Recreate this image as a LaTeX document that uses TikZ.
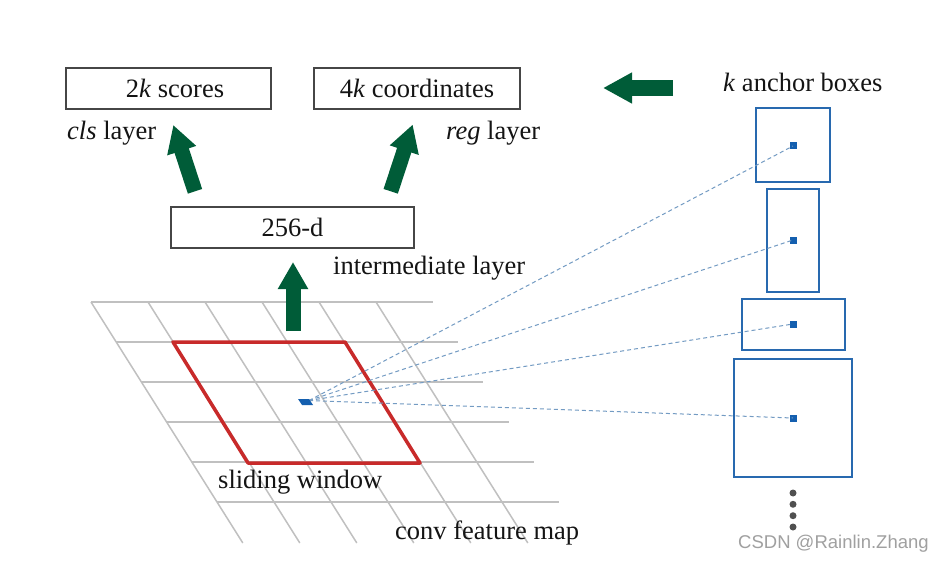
\documentclass[tikz,border=0pt]{standalone}
\usepackage{fontspec}
\setmainfont{Liberation Serif}
\newfontfamily\wmfont{Liberation Sans}
\usetikzlibrary{arrows.meta}
\definecolor{arrgreen}{RGB}{0,92,56}
\definecolor{boxgray}{RGB}{70,70,70}
\definecolor{gridgray}{RGB}{192,192,192}
\definecolor{winred}{RGB}{200,42,42}
\definecolor{ancblue}{RGB}{40,105,175}
\definecolor{dotblue}{RGB}{20,95,175}
\definecolor{dashblue}{RGB}{115,155,195}
\definecolor{ellgray}{RGB}{80,80,80}
\definecolor{wmgray}{RGB}{160,160,160}
\definecolor{txt}{RGB}{20,20,20}
\begin{document}
\begin{tikzpicture}[x=1pt,y=-1pt,
  bigfont/.style={font=\fontsize{26.5}{30}\selectfont},
  layerbox/.style={draw=boxgray, line width=1.5pt, minimum height=41pt, inner sep=0pt, bigfont, text=txt},
  lbl/.style={anchor=west, inner sep=0pt, bigfont, text=txt},
  ancbox/.style={draw=ancblue, line width=2pt, inner sep=0pt},
  cdot/.style={fill=dotblue, minimum size=7pt, inner sep=0pt},
  edot/.style={circle, fill=ellgray, minimum size=7pt, inner sep=0pt},
  bigarrow/.style={draw=arrgreen, line width=15pt, -{Triangle[length=27pt,width=28.5pt]}},
  gridline/.style={draw=gridgray, line width=1.5pt},
  dashline/.style={draw=dashblue, line width=1pt, dash pattern=on 4pt off 3pt}]
\useasboundingbox[fill=white] (0,0) rectangle (944,564);

% conv feature map grid
\foreach \i in {0,...,5}
  \draw[gridline] ({91+0.63*40*\i},{302+40*\i}) -- ({433+0.63*40*\i},{302+40*\i});
\foreach \j in {0,...,5}
  \draw[gridline] ({91+57*\j},302) -- ({91+57*\j+0.63*241},543);

% sliding window
\draw[winred, line width=3.5pt, line join=round] (173,342) -- (345,342) -- (420,463) -- (248,463) -- cycle;

% layer boxes
\node[layerbox, minimum width=205pt] (cls) at (168.5,88.5) {\hspace*{13pt}2\textit{k} scores};
\node[layerbox, minimum width=206pt] (reg) at (417,88.5) {4\textit{k} coordinates};
\node[layerbox, minimum width=243pt] (mid) at (292.5,227.5) {256-d};

% labels
\node[lbl] (clsl) at (67,133) {\textit{cls} layer};
\node[lbl] (regl) at (446,133) {\textit{reg} layer};
\node[lbl] (midl) at (333,268) {intermediate layer};
\node[lbl] (ankl) at (723,82) {\textit{k} anchor boxes};
\node[lbl] (slidl) at (218,482) {sliding window};
\node[lbl] (convl) at (395,533) {conv feature map};
\node[anchor=west, inner sep=0pt, text=wmgray, font=\wmfont\fontsize{18.5}{22}\selectfont] (wm) at (738,544) {CSDN @Rainlin.Zhang};

% anchor boxes
\node[ancbox, minimum width=74pt, minimum height=74pt] (a1) at (793,145) {};
\node[ancbox, minimum width=52pt, minimum height=103pt] (a2) at (793,240.5) {};
\node[ancbox, minimum width=103pt, minimum height=51pt] (a3) at (793.5,324.5) {};
\node[ancbox, minimum width=118pt, minimum height=118pt] (a4) at (793,418) {};
\node[cdot] (d1) at (793,146) {};
\node[cdot] (d2) at (793,240) {};
\node[cdot] (d3) at (793,324) {};
\node[cdot] (d4) at (793,418) {};
\foreach \y/\n in {493/e1,504.3/e2,515.7/e3,527/e4}
  \node[edot] (\n) at (793,\y) {};

% dashed projection lines
\coordinate (src) at (309,400.5);
\foreach \d in {d1,d2,d3,d4}
  \draw[dashline] (src) -- (\d.center);

% anchor point on the feature map
\fill[dotblue] (298,399) -- (309,399) -- (313,405) -- (302,405) -- cycle;

% green arrows
\coordinate (clsT) at (195,191.3);
\coordinate (clsH) at (173.3,125);
\coordinate (regT) at (390.7,191.3);
\coordinate (regH) at (412.7,124.5);
\coordinate (midT) at (293,331);
\coordinate (midH) at (293,262);
\coordinate (ankT) at (673,88);
\coordinate (ankH) at (603,88);
\draw[bigarrow] (clsT) -- (clsH);
\draw[bigarrow] (regT) -- (regH);
\draw[bigarrow] (midT) -- (midH);
\draw[bigarrow, line width=16pt, -{Triangle[length=29pt,width=29pt]}] (ankT) -- (ankH);
\end{tikzpicture}
\end{document}
